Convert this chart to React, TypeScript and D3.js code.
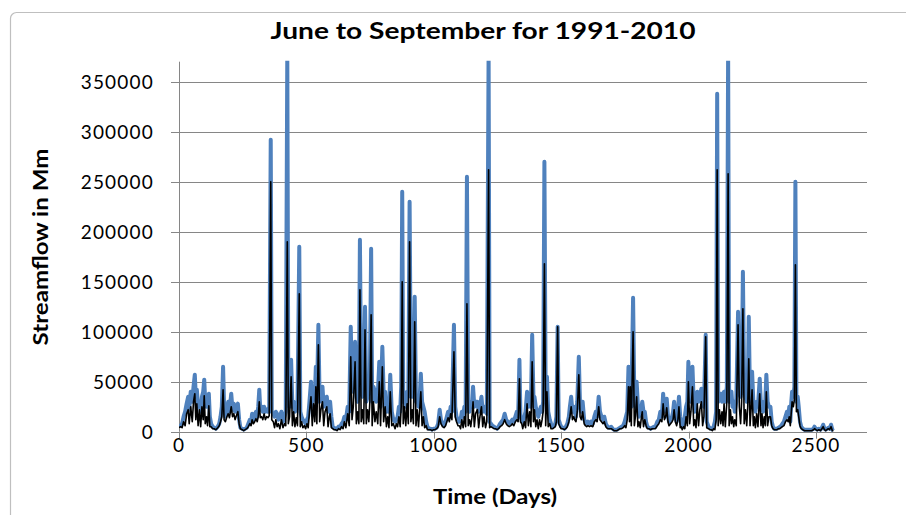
import React from "react";
import * as d3 from "d3";

// Streamflow values in thousands (Mm); days since start of record (June–September seasons)
const days: number[] = [
  0,6,12,18,24,30,36,40,46,52,57,62,66,70,75,80,85,90,95,99,103,108,112,117,121,
  126,132,138,145,152,158,163,168,173,177,182,188,193,198,205,210,215,220,225,231,236,241,
  248,254,260,266,272,278,283,287,292,297,302,307,311,315,319,324,329,334,339,344,349,354,360,364,
  370,375,380,385,390,396,402,408,414,419,425,429,434,440,445,450,455,460,465,472,476,481,486,
  492,497,502,507,512,518,523,528,533,537,541,547,552,557,563,568,573,580,585,590,593,598,603,608,
  614,620,626,632,638,644,649,655,662,668,674,679,684,691,696,701,706,710,715,720,725,730,
  735,740,745,749,754,758,763,769,774,780,786,791,798,803,809,814,819,824,829,835,841,848,853,
  858,863,868,872,876,880,885,890,895,900,905,910,915,920,925,930,935,940,944,949,954,959,964,970,975,
  981,987,993,999,1005,1011,1017,1023,1028,1034,1040,1046,1051,1056,1061,1066,1071,1079,1084,1089,1095,
  1100,1105,1110,1115,1120,1125,1130,1135,1140,1145,1150,1154,1159,1164,1171,1176,1181,1187,1192,1197,1203,1208,1215,1219,
  1224,1230,1236,1242,1248,1254,1260,1266,1272,1278,1284,1290,1296,1302,1308,1314,1320,1326,1331,1336,1340,
  1345,1349,1355,1360,1366,1371,1376,1381,1386,1391,1395,1400,1405,1410,1415,1420,1425,1429,1434,1439,1444,1449,1455,1460,
  1467,1472,1477,1481,1486,1490,1495,1500,1506,1512,1518,1524,1530,1534,1539,1544,1549,1553,1558,1563,1569,1574,1579,1584,
  1590,1595,1600,1605,1611,1617,1624,1630,1636,1641,1647,1652,1658,1664,1669,1675,1682,1689,1696,1702,1707,
  1713,1719,1725,1731,1737,1743,1749,1754,1759,1764,1768,1771,1775,1782,1787,1791,1796,1801,1805,1810,1815,1818,1823,1828,
  1833,1838,1844,1850,1857,1864,1870,1877,1883,1889,1895,1900,1905,1910,1914,1919,1923,1929,1935,1939,1943,1948,
  1953,1958,1962,1967,1971,1975,1980,1985,1990,1995,1999,2004,2009,2015,2020,2024,2029,2034,2039,2044,2050,2055,2060,2067,2071,
  2078,2083,2088,2093,2098,2103,2108,2112,2116,2121,2126,2131,2135,2139,2144,2150,2155,2159,2164,2168,2172,2177,2181,2187,2194,
  2199,2204,2208,2213,2218,2223,2228,2232,2236,2241,2245,2249,2254,2258,2262,2267,2272,2279,2284,2288,2292,2297,2301,2305,2310,2315,
  2321,2326,2331,2336,2342,2347,2353,2358,2363,2368,2374,2380,2386,2391,2395,2399,2403,2406,2411,2415,2419,2423,2428,2432,2437,
  2442,2448,2455,2462,2469,2476,2483,2490,2494,2499,2505,2511,2517,2523,2528,2533,2538,2543,2548,2553,2559,2564,2568,
];

const observedFlow: number[] = [
  5,6,8,15,20,28,35,22,40,30,45,57,35,42,25,30,20,35,40,52,30,25,30,38,15,
  8,5,4,3,5,8,15,25,65,25,15,22,30,20,38,22,28,20,25,28,12,4,
  3,2,3,4,8,12,10,18,12,15,20,15,25,42,22,25,20,25,20,22,20,25,292,20,
  18,15,20,18,12,15,20,10,15,20,380,30,25,72,25,30,20,22,25,185,20,15,12,
  10,8,12,15,30,50,25,40,35,65,30,107,30,35,45,25,30,35,20,25,30,15,5,4,
  3,3,5,4,8,10,15,12,25,20,105,45,40,90,35,30,45,192,40,35,45,125,
  30,35,40,50,183,30,45,40,30,35,70,25,85,40,40,20,25,20,57,20,12,10,12,
  15,25,20,45,240,30,35,25,40,35,230,40,35,45,135,30,35,25,30,58,30,25,20,10,5,
  3,3,2,3,3,4,8,22,12,8,6,10,15,20,15,25,20,107,25,15,10,
  10,12,20,15,25,20,255,25,20,30,25,45,25,30,30,20,25,35,20,25,20,18,380,10,
  8,6,5,4,3,5,8,10,12,18,12,10,8,10,12,10,15,20,15,72,15,
  12,10,15,20,40,25,30,25,97,35,35,25,20,15,20,25,20,30,270,30,55,20,12,8,
  5,6,8,15,105,12,8,5,4,3,5,8,15,25,35,20,25,20,15,30,75,25,20,30,
  12,10,8,10,8,10,8,15,20,15,35,20,15,12,15,8,5,4,5,3,2,
  2,2,3,4,5,6,10,15,20,65,40,65,25,134,30,25,50,25,15,20,25,30,20,20,
  10,5,4,3,4,5,5,10,12,20,15,38,20,25,33,15,10,12,15,20,30,15,
  10,20,35,15,8,5,8,15,25,30,70,35,30,65,30,20,30,40,30,35,43,30,25,97,10,
  5,4,3,3,5,10,20,338,30,35,38,30,35,40,30,45,380,30,35,40,25,30,20,30,120,
  40,35,45,160,40,35,30,40,115,30,35,60,30,25,20,30,25,53,25,30,20,25,30,57,30,25,
  25,10,5,3,3,3,4,5,6,8,10,15,20,15,25,10,30,40,35,45,250,30,35,25,10,
  5,3,2,2,2,2,2,3,5,3,2,3,2,4,7,3,2,3,4,3,7,2,1,
];

const simulatedFlow: number[] = [
  4,5,4,10,6,18,22,8,25,10,30,38,12,28,6,22,5,25,12,36,8,15,6,26,5,
  5,3,3,2,4,6,10,15,42,12,10,15,18,14,25,15,18,12,16,20,8,3,
  2,1,2,3,5,8,6,12,8,10,13,10,15,30,14,15,12,18,12,15,14,16,250,12,
  10,4,12,5,8,3,12,4,8,6,190,8,15,55,6,20,5,14,6,138,5,10,4,
  6,3,8,4,20,35,6,28,10,45,8,87,10,22,30,6,20,25,5,15,18,4,3,2,
  2,1,3,2,5,3,10,4,18,6,75,12,25,70,8,20,8,142,10,22,8,102,
  8,22,10,30,117,6,30,10,20,8,50,6,65,10,25,5,15,4,40,6,8,3,8,
  5,15,5,25,150,8,25,6,28,8,190,10,22,8,110,6,22,5,20,40,6,15,4,6,2,
  2,2,1,2,2,3,5,15,8,5,4,6,10,14,10,18,12,80,15,10,6,
  6,3,12,4,15,5,128,6,12,5,15,30,5,18,22,4,15,25,5,15,4,10,262,4,
  5,4,3,3,2,3,5,6,8,12,8,6,5,6,8,6,10,12,10,53,10,
  8,3,10,4,28,6,20,5,70,10,22,5,12,3,12,5,12,20,168,6,40,5,8,3,
  3,4,5,10,105,8,5,3,3,2,3,5,10,15,25,12,15,12,10,20,57,15,12,20,
  8,6,5,6,5,6,5,10,12,10,25,12,10,8,10,5,3,3,3,2,1,
  1,1,2,3,3,4,6,4,12,45,10,45,6,100,6,15,35,5,10,4,15,20,5,12,
  6,3,3,2,3,3,3,6,8,12,10,28,12,15,24,10,6,8,10,12,22,10,
  6,12,25,4,5,2,5,3,15,6,50,8,20,45,6,12,4,28,6,22,30,6,15,95,4,
  3,2,2,1,3,2,12,262,6,22,8,20,6,28,5,30,258,6,22,8,15,5,12,6,107,
  25,8,30,123,8,22,6,25,73,6,22,42,6,15,4,18,5,38,6,18,4,15,6,40,6,15,
  15,6,3,2,2,2,3,3,4,5,6,10,12,10,15,6,20,30,25,32,167,20,22,15,6,
  3,2,1,1,1,1,1,2,3,2,1,2,1,3,5,2,1,2,3,2,5,1,1,
];

const yTickValues: number[] = [0, 50, 100, 150, 200, 250, 300, 350];
const xTickValues: number[] = [0, 500, 1000, 1500, 2000, 2500];

const titleText = "June to September for 1991-2010";
const yTitle = "Streamflow in Mm";
const xTitle = "Time (Days)";

export default function App() {
  const W = 906, H = 515;
  const left = 179, right = 867, top = 61.7, bottom = 431.7;
  const x = d3.scaleLinear().domain([0, 2700]).range([left, right]);
  const y = d3.scaleLinear().domain([0, 370]).range([bottom, top]);
  const n = Math.min(days.length, observedFlow.length, simulatedFlow.length);
  const idx = d3.range(n);
  const lineObs = d3.line<number>().x((i) => x(days[i])).y((i) => y(observedFlow[i]));
  const lineSim = d3.line<number>().x((i) => x(days[i])).y((i) => y(simulatedFlow[i]));
  const grid = "#868686";
  const font = "Lato, 'Open Sans', sans-serif";
  const snap = (v: number) => Math.round(v) + 0.5;

  return (
    <svg width={W} height={H} style={{ position: "absolute", left: 0, top: 0, background: "#fff" }}>
      <defs>
        <clipPath id="plotclip">
          <rect x={left} y={top - 1} width={right - left} height={bottom - top + 3} />
        </clipPath>
      </defs>
      <rect x={10.5} y={12.5} width={W} height={H} rx={6} fill="#fff" stroke="#bfbfbf" strokeWidth={1.2} />
      <text x={483} y={39} textAnchor="middle" fontFamily={font} fontWeight="bold" fontSize={23}
        textLength={425} lengthAdjust="spacingAndGlyphs" fill="#000">{titleText}</text>

      {yTickValues.map((v) => (
        <g key={"gy" + v}>
          {v > 0 && <line x1={left} x2={right} y1={snap(y(v))} y2={snap(y(v))} stroke={grid} strokeWidth={1} />}
          <line x1={left - 8} x2={left} y1={snap(y(v))} y2={snap(y(v))} stroke={grid} strokeWidth={1} />
          <text x={154} y={y(v) + 7} textAnchor="end" fontFamily={font} fontSize={19} letterSpacing={1.2} fill="#000">
            {String(v * 1000)}
          </text>
        </g>
      ))}
      <line x1={snap(left)} x2={snap(left)} y1={top} y2={bottom} stroke={grid} strokeWidth={1} />
      <line x1={left} x2={right} y1={snap(bottom)} y2={snap(bottom)} stroke={grid} strokeWidth={1} />
      {xTickValues.map((v) => (
        <g key={"gx" + v}>
          <line x1={snap(x(v))} x2={snap(x(v))} y1={bottom} y2={bottom + 7} stroke={grid} strokeWidth={1} />
          <text x={x(v)} y={452} textAnchor="middle" fontFamily={font} fontSize={19} letterSpacing={1.2} fill="#000">
            {String(v)}
          </text>
        </g>
      ))}

      <g clipPath="url(#plotclip)">
        <path d={lineObs(idx) || ""} fill="none" stroke="#4F81BD" strokeWidth={4} strokeLinejoin="round" />
        <path d={lineSim(idx) || ""} fill="none" stroke="#000" strokeWidth={1.6} strokeLinejoin="round" />
      </g>

      <text transform={`translate(48,247) rotate(-90)`} textAnchor="middle" fontFamily={font} fontWeight="bold"
        fontSize={20} textLength={197} lengthAdjust="spacingAndGlyphs" fill="#000">{yTitle}</text>
      <text x={495} y={504} textAnchor="middle" fontFamily={font} fontWeight="bold" fontSize={20}
        textLength={124} lengthAdjust="spacingAndGlyphs" fill="#000">{xTitle}</text>
    </svg>
  );
}
